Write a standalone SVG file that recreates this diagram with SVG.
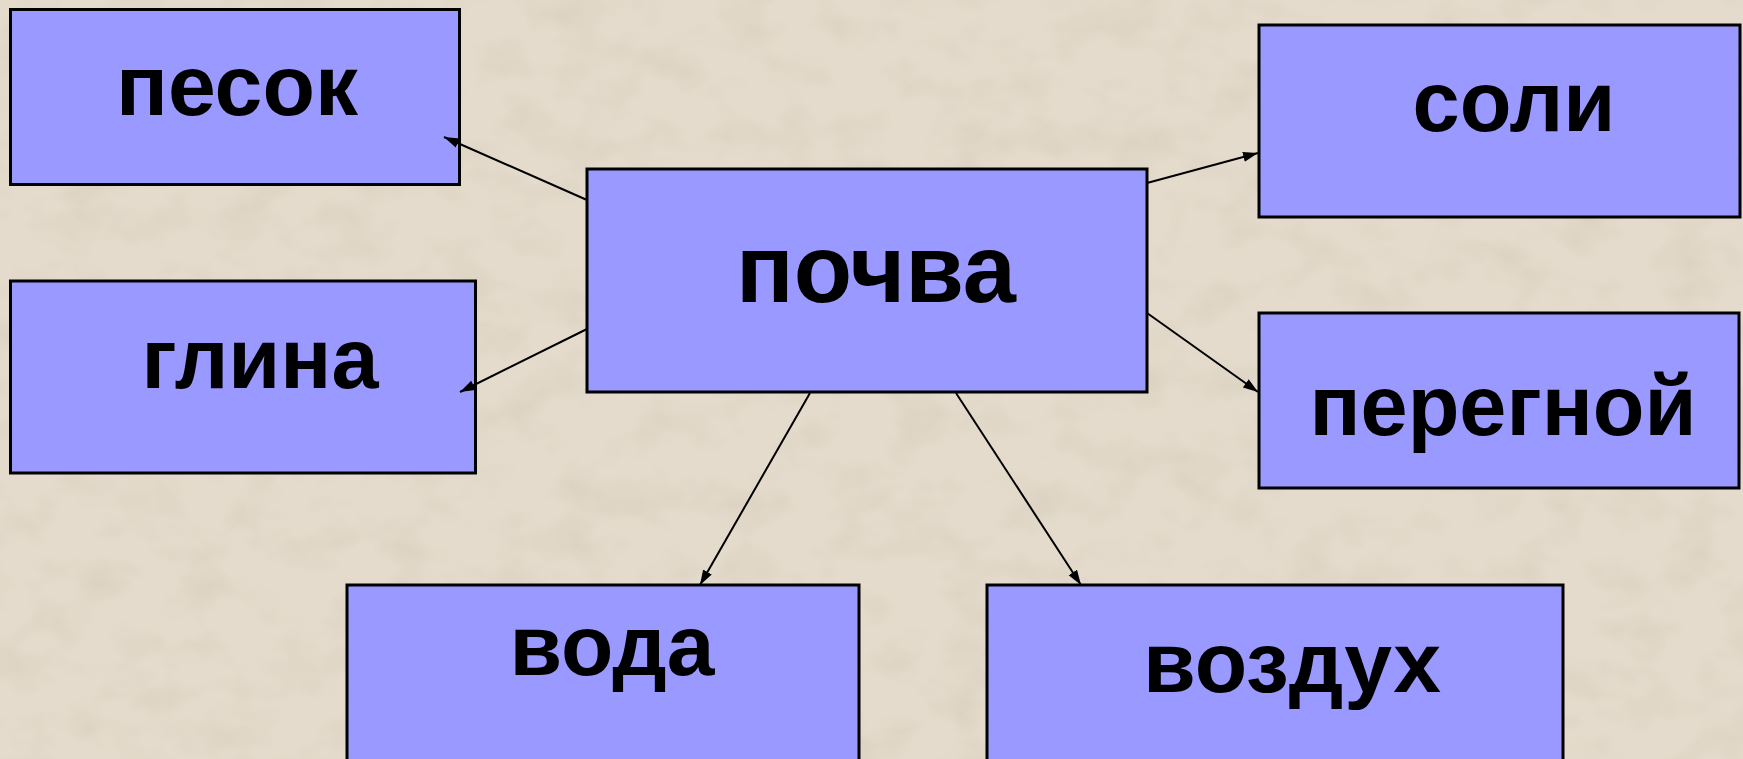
<svg xmlns="http://www.w3.org/2000/svg" width="1743" height="759" viewBox="0 0 1743 759">
<style>
.box{fill:#9999FF;stroke:#000;stroke-width:3}
.lbl{font-family:"Liberation Sans",Arial,sans-serif;font-weight:bold;font-size:86px;fill:#000;text-anchor:middle}
.big{font-size:97px}
.con{stroke:#000;stroke-width:2;fill:none;marker-end:url(#arr)}
</style>
<defs>
<marker id="arr" markerUnits="userSpaceOnUse" markerWidth="16" markerHeight="12" refX="15" refY="5" orient="auto">
<path d="M0,0 L15,5 L0,10 Z" fill="#000"/>
</marker>
<filter id="tex" x="0" y="0" width="100%" height="100%">
<feTurbulence type="fractalNoise" baseFrequency="0.018 0.025" numOctaves="3" seed="11" result="n"/>
<feColorMatrix in="n" type="matrix" values="0 0 0 0 0.55  0 0 0 0 0.48  0 0 0 0 0.38  0 0 0 -1.8 1.0" result="c"/>
<feComposite in="c" in2="SourceGraphic" operator="in"/>
</filter>
</defs>
<rect id="bg" x="0" y="0" width="1743" height="759" fill="#E4DBCC"/>
<rect x="0" y="0" width="1743" height="759" fill="#E4DBCC" filter="url(#tex)" opacity="0.3"/>
<g id="pesok">
<rect class="box" x="10.5" y="9.5" width="449" height="175"/>
<text class="lbl" x="237" y="115" textLength="242" lengthAdjust="spacingAndGlyphs">песок</text>
</g>
<g id="glina">
<rect class="box" x="10.5" y="281" width="465" height="192"/>
<text class="lbl" x="260" y="388" textLength="237" lengthAdjust="spacingAndGlyphs">глина</text>
</g>
<g id="pochva">
<rect class="box" x="587" y="169" width="560" height="223"/>
<text class="lbl big" x="876" y="302" textLength="280" lengthAdjust="spacingAndGlyphs">почва</text>
</g>
<g id="soli">
<rect class="box" x="1259" y="25" width="481" height="192"/>
<text class="lbl" x="1514" y="131" textLength="203" lengthAdjust="spacingAndGlyphs">соли</text>
</g>
<g id="peregnoi">
<rect class="box" x="1259" y="313" width="480" height="175"/>
<text class="lbl" x="1503" y="435" textLength="387" lengthAdjust="spacingAndGlyphs">перегной</text>
</g>
<g id="voda">
<rect class="box" x="347" y="585" width="512" height="220"/>
<text class="lbl" x="612" y="675" textLength="205" lengthAdjust="spacingAndGlyphs">вода</text>
</g>
<g id="vozduh">
<rect class="box" x="987" y="585" width="576" height="220"/>
<text class="lbl" x="1292" y="692" textLength="298" lengthAdjust="spacingAndGlyphs">воздух</text>
</g>
<g id="connectors">
<line class="con" x1="587" y1="200" x2="444" y2="137"/>
<line class="con" x1="587" y1="329" x2="460" y2="392"/>
<line class="con" x1="1147" y1="183" x2="1258" y2="153"/>
<line class="con" x1="1147" y1="313" x2="1258" y2="392"/>
<line class="con" x1="810" y1="393" x2="700" y2="585"/>
<line class="con" x1="956" y1="393" x2="1081" y2="585"/>
</g>
</svg>
